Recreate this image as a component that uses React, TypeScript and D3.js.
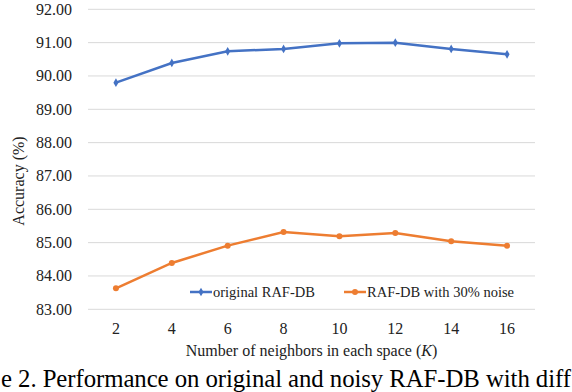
import React from "react";
import * as d3 from "d3";

const kValues = [2, 4, 6, 8, 10, 12, 14, 16];
const originalAcc = [89.8, 90.39, 90.74, 90.81, 90.98, 91.0, 90.81, 90.65];
const noisyAcc = [83.63, 84.39, 84.91, 85.32, 85.19, 85.29, 85.04, 84.91];
const yTicks = [83, 84, 85, 86, 87, 88, 89, 90, 91, 92];
const seriesNames = ["original RAF-DB", "RAF-DB with 30% noise"];
const colors = ["#4472C4", "#ED7D31"];
const captionVisible = "e 2. Performance on original and noisy RAF-DB with diff";

const W = 572;
const H = 392;
const FONT = '"Liberation Serif", monospace';

export default function App() {
  const x = d3.scaleBand<number>().domain(kValues).range([88, 535]);
  const y = d3.scaleLinear().domain([83, 92]).range([309.3, 9.3]);
  const cx = (k: number) => (x(k) as number) + x.bandwidth() / 2;
  const line = d3
    .line<[number, number]>()
    .x((d) => cx(d[0]))
    .y((d) => y(d[1]));
  const series = [originalAcc, noisyAcc];
  const diamond = d3.symbol().type(d3.symbolDiamond).size(22)();
  const ts = { fontFamily: FONT } as React.CSSProperties;

  return (
    <div style={{ position: "absolute", left: 0, top: 0 }}>
      <svg width={W} height={H} style={{ display: "block", background: "#fff" }}>
        {yTicks.map((t) => (
          <g key={t}>
            <line x1={88} x2={535} y1={y(t)} y2={y(t)} stroke="#d9d9d9" strokeWidth={1} />
            <text x={72} y={y(t) + 5.5} textAnchor="end" fontSize={16} fill="#222" style={ts}>
              {t.toFixed(2)}
            </text>
          </g>
        ))}
        {kValues.map((k) => (
          <text key={k} x={cx(k)} y={333.5} textAnchor="middle" fontSize={16} fill="#222" style={ts}>
            {k}
          </text>
        ))}
        {series.map((vals, i) => (
          <g key={i}>
            <path
              d={line(kValues.map((k, j) => [k, vals[j]] as [number, number])) || ""}
              fill="none"
              stroke={colors[i]}
              strokeWidth={2.5}
            />
            {kValues.map((k, j) =>
              i === 0 ? (
                <path key={k} d={diamond || ""} transform={`translate(${cx(k)},${y(vals[j])})`} fill={colors[i]} />
              ) : (
                <circle key={k} cx={cx(k)} cy={y(vals[j])} r={3} fill={colors[i]} />
              )
            )}
          </g>
        ))}
        <g>
          <line x1={190} x2={212} y1={292} y2={292} stroke={colors[0]} strokeWidth={2.5} />
          <path d={diamond || ""} transform="translate(201,292)" fill={colors[0]} />
          <text x={213} y={297} fontSize={14.5} fill="#222" style={ts}>
            {seriesNames[0]}
          </text>
          <line x1={344} x2={366} y1={292} y2={292} stroke={colors[1]} strokeWidth={2.5} />
          <circle cx={355} cy={292} r={3} fill={colors[1]} />
          <text x={367} y={297} fontSize={14.5} fill="#222" style={ts}>
            {seriesNames[1]}
          </text>
        </g>
        <text transform="translate(24,181) rotate(-90)" textAnchor="middle" fontSize={16} fill="#222" style={ts}>
          Accuracy (%)
        </text>
        <text x={311.5} y={355.5} textAnchor="middle" fontSize={16} fill="#222" style={ts}>
          Number of neighbors in each space (<tspan fontStyle="italic">K</tspan>)
        </text>
        <text x={1} y={387} fontSize={24.8} fill="#000" style={ts} textLength={570} lengthAdjust="spacing">
          {captionVisible}
        </text>
      </svg>
    </div>
  );
}
